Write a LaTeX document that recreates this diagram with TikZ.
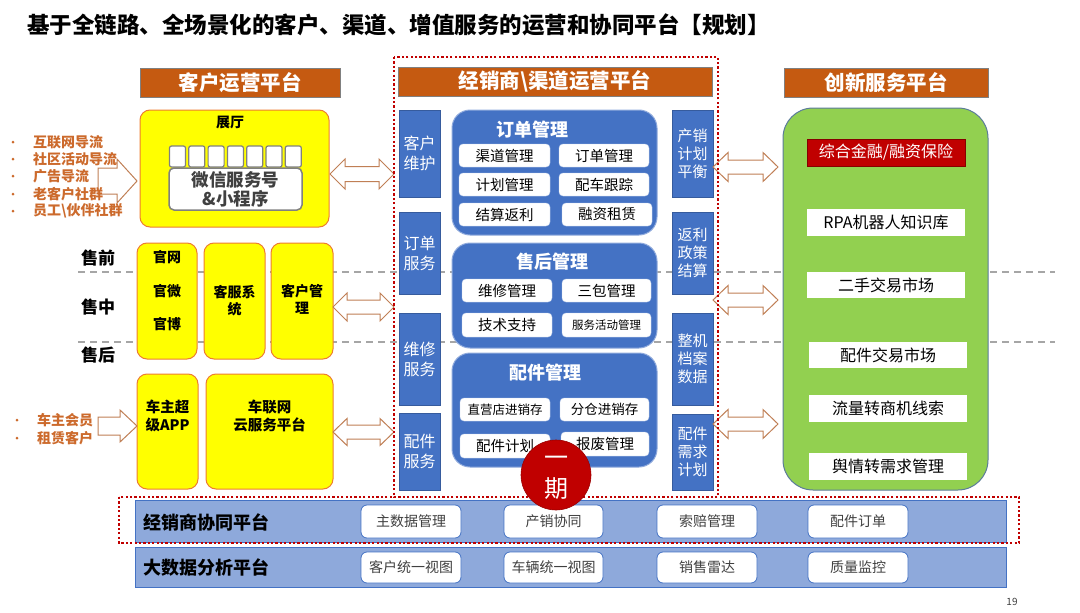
\documentclass[tikz,border=0pt]{standalone}
\usepackage{fontspec}
\setmainfont{Noto Sans CJK SC}
\usetikzlibrary{calc}
\definecolor{hdr}{HTML}{C55A11}
\definecolor{blu}{HTML}{4472C4}
\definecolor{blul}{HTML}{8FAADC}
\definecolor{yel}{HTML}{FFFF00}
\definecolor{yelb}{HTML}{ED7D31}
\definecolor{grn}{HTML}{92D050}
\definecolor{grnb}{HTML}{5B7B9A}
\definecolor{dred}{HTML}{C00000}
\definecolor{org}{HTML}{CC6A2C}
\definecolor{arr}{HTML}{C07F55}
\definecolor{barf}{HTML}{8EA9DB}
\definecolor{dgray}{HTML}{404040}
\definecolor{lgray}{HTML}{A6A6A6}
\newcommand\fsz[2]{\fontsize{#1}{#2}\selectfont}
% box by corners: name, x1, y1, x2, y2, style, text
\newcommand\bx[7]{\node[#6, minimum width={#4-#2}, minimum height={#5-#3}] (#1) at ({(#2+#4)/2},{(#3+#5)/2}) {#7};}
% double block arrow: x1, x2, yc, body half, head half, head length
\newcommand\dblarr[6]{\draw[blockarr] (#1,#3) -- ({#1+#6},{#3-#5}) -- ({#1+#6},{#3-#4}) -- ({#2-#6},{#3-#4}) -- ({#2-#6},{#3-#5}) -- (#2,#3) -- ({#2-#6},{#3+#5}) -- ({#2-#6},{#3+#4}) -- ({#1+#6},{#3+#4}) -- ({#1+#6},{#3+#5}) -- cycle;}
% single block arrow (to the right): x1, x2, yc, body half, head half, head length
\newcommand\sglarr[6]{\draw[blockarr] (#1,{#3-#4}) -- ({#2-#6},{#3-#4}) -- ({#2-#6},{#3-#5}) -- (#2,#3) -- ({#2-#6},{#3+#5}) -- ({#2-#6},{#3+#4}) -- (#1,{#3+#4}) -- cycle;}
\begin{document}
\begin{tikzpicture}[x=1pt,y=-1pt,
  hdrbox/.style={rectangle, fill=hdr, draw=gray, line width=0.8pt, text=white, font=\bfseries\fsz{20.5}{23}, inner sep=0pt},
  yelbox/.style={rectangle, rounded corners=10pt, fill=yel, draw=yelb, line width=1pt, font=\bfseries\fsz{14}{17}, align=center, inner sep=0pt},
  colbox/.style={rectangle, fill=blu, draw=blu!80!black, line width=0.5pt, text=white, align=center, inner sep=0pt},
  rbox/.style={rectangle, rounded corners=18pt, fill=blu, draw=blul, line width=1pt, inner sep=0pt},
  item/.style={rectangle, rounded corners=4pt, fill=white, draw=blu!30, line width=0.4pt, font=\fsz{14.5}{17}, inner sep=0pt},
  gitem/.style={rectangle, fill=white, font=\fsz{16}{19}, inner sep=0pt},
  baritem/.style={rectangle, rounded corners=6pt, fill=white, draw=blu, line width=0.8pt, text=dgray, font=\fsz{14}{17}, inner sep=0pt},
  bar/.style={rectangle, fill=barf, draw=blu, line width=1pt, inner sep=0pt},
  blockarr/.style={draw=arr, fill=white, line width=1pt, line join=miter},
  lst/.style={anchor=west, text=org, font=\bfseries\fsz{14}{17}, inner sep=0pt},
  bul/.style={circle, fill=org, minimum size=3pt, inner sep=0pt},
  stage/.style={font=\bfseries\fsz{17}{20}, inner sep=0pt},
  sdash/.style={lgray, line width=1.2pt, dash pattern=on 7pt off 5pt},
  rdot/.style={dred, line width=2.6pt, dash pattern=on 2.2pt off 2.2pt},
  sq/.style={rectangle, rounded corners=2pt, fill=white, draw=gray, line width=1.2pt, minimum width=16pt, minimum height=21pt, inner sep=0pt}
]
\useasboundingbox (0,0) rectangle (1080,613);

% title
\node[anchor=west, font=\bfseries\fsz{22.5}{25}, inner sep=0pt] (title) at (27,25) {基于全链路、全场景化的客户、渠道、增值服务的运营和协同平台【规划】};

% stage dashed lines (behind)
\coordinate (d1a) at (78,272); \coordinate (d1b) at (1055,272);
\coordinate (d2a) at (78,342); \coordinate (d2b) at (1055,342);
\draw[sdash] (d1a) -- (d1b);
\draw[sdash] (d2a) -- (d2b);

% headers
\bx{h1}{140}{68}{340}{97}{hdrbox}{客户运营平台}
\bx{h2}{398}{67}{712}{96}{hdrbox}{经销商\textbackslash 渠道运营平台}
\bx{h3}{784}{68}{988}{97}{hdrbox}{创新服务平台}

% ---------- left column ----------
\bx{zt}{140}{110}{329}{227}{yelbox}{}
\node[font=\bfseries\fsz{14}{17}, inner sep=0pt] (ztt) at (230,123) {展厅};
\foreach \i in {0,...,6} {
  \node[sq] (sq\i) at ({177.5+\i*19.3},156.5) {};
}
\bx{wx}{169}{168}{302}{210}{rectangle, rounded corners=5pt, fill=white, draw=gray, line width=1.5pt, text=dgray, font=\bfseries\fsz{17.5}{19}, align=center, inner sep=0pt}{微信服务号\\\&小程序}

% list 1 arrow (behind text)
\sglarr{98}{137}{181}{13}{22}{20}
\foreach \t/\yy [count=\k] in {互联网导流/142, 社区活动导流/159, 广告导流/176, 老客户社群/194, 员工\textbackslash 伙伴社群/211} {
  \node[bul] (b\k) at (13,\yy) {};
  \node[lst] (l\k) at (33,\yy) {\t};
}

% stage labels
\node[stage] (s1) at (98,258) {售前};
\node[stage] (s2) at (98,307) {售中};
\node[stage] (s3) at (98,355) {售后};

% row 2 yellow
\bx{gw}{137}{243}{197}{359}{yelbox}{}
\node[font=\bfseries\fsz{14}{17}, inner sep=0pt] (gw1) at (167,257) {官网};
\node[font=\bfseries\fsz{14}{17}, inner sep=0pt] (gw2) at (167,291) {官微};
\node[font=\bfseries\fsz{14}{17}, inner sep=0pt] (gw3) at (167,324) {官博};
\bx{kf}{204}{243}{265}{359}{yelbox}{客服系\\统}
\bx{kh}{271}{243}{333}{359}{yelbox}{}
\node[font=\bfseries\fsz{14}{17}, align=center, inner sep=0pt] (kht) at (302,299) {客户管\\理};

% row 3 yellow
\bx{app}{137}{374}{198}{489}{yelbox}{}
\node[font=\bfseries\fsz{14.5}{17.5}, align=center, inner sep=0pt] (appt) at (167.5,416) {车主超\\级APP};
\bx{cl}{206}{374}{333}{489}{yelbox}{}
\node[font=\bfseries\fsz{14.5}{17.5}, align=center, inner sep=0pt] (clt) at (269.5,416) {车联网\\云服务平台};

% list 2
\sglarr{98}{137}{426}{9}{16}{17}
\node[bul] (b6) at (17,420) {};
\node[lst] (l6) at (37,420) {车主会员};
\node[bul] (b7) at (17,438) {};
\node[lst] (l7) at (37,438) {租赁客户};

% double arrows left
\dblarr{330}{394}{174}{7.5}{15}{15}
\dblarr{333}{394}{307}{7}{14}{14}
\dblarr{333}{394}{432}{7}{13.5}{14}

% ---------- center column ----------
\bx{c1}{399}{110}{440}{197}{colbox, font=\fsz{16}{20}}{客户\\维护}
\bx{c2}{399}{212}{440}{294}{colbox, font=\fsz{16}{20}}{订单\\服务}
\bx{c3}{399}{313}{440}{405}{colbox, font=\fsz{16}{20}}{维修\\服务}
\bx{c4}{399}{413}{440}{490}{colbox, font=\fsz{16}{20}}{配件\\服务}

\bx{r1}{672}{110}{713}{197}{colbox, font=\fsz{15}{18}}{产销\\计划\\平衡}
\bx{r2}{672}{212}{713}{294}{colbox, font=\fsz{15}{18}}{返利\\政策\\结算}
\bx{r3}{672}{313}{713}{405}{colbox, font=\fsz{15}{18}}{整机\\档案\\数据}
\bx{r4}{672}{414}{713}{490}{colbox, font=\fsz{15}{18}}{配件\\需求\\计划}

% order management
\bx{om}{452}{110}{657}{235}{rbox}{}
\node[text=white, font=\bfseries\fsz{18}{21}, inner sep=0pt] (omt) at (532,130) {订单管理};
\bx{o1}{459}{144}{550}{167}{item}{渠道管理}
\bx{o2}{559}{144}{649}{167}{item}{订单管理}
\bx{o3}{459}{173}{550}{196}{item}{计划管理}
\bx{o4}{559}{173}{649}{196}{item}{配车跟踪}
\bx{o5}{459}{203}{550}{226}{item}{结算返利}
\bx{o6}{562}{203}{652}{226}{item}{融资租赁}

% after-sales
\bx{am}{452}{243}{657}{348}{rbox}{}
\node[text=white, font=\bfseries\fsz{18}{21}, inner sep=0pt] (amt) at (552,262) {售后管理};
\bx{a1}{462}{279}{552}{302}{item}{维修管理}
\bx{a2}{562}{279}{651}{302}{item}{三包管理}
\bx{a3}{462}{313}{552}{337}{item}{技术支持}
\bx{a4}{562}{313}{651}{337}{item, font=\fsz{11.5}{14}}{服务活动管理}

% parts
\bx{pm}{452}{353}{657}{467}{rbox}{}
\node[text=white, font=\bfseries\fsz{18}{21}, inner sep=0pt] (pmt) at (545,373) {配件管理};
\bx{p1}{460}{398}{550}{421}{item, font=\fsz{12.5}{15}}{直营店进销存}
\bx{p2}{560}{398}{649}{421}{item, font=\fsz{13.5}{16}}{分仓进销存}
\bx{p3}{460}{434}{550}{458}{item}{配件计划}
\bx{p4}{561}{432}{649}{456}{item}{报废管理}

% ---------- right column ----------
\bx{gb}{783}{108}{988}{490}{rectangle, rounded corners=30pt, fill=grn, draw=grnb, line width=1pt, inner sep=0pt}{}
\bx{g1}{807}{139}{965}{166}{gitem, fill=dred, draw=dred!70!black, line width=0.5pt, text=white}{综合金融/融资保险}
\bx{g2}{807}{209}{965}{236}{gitem}{RPA机器人知识库}
\bx{g3}{807}{272}{965}{298}{gitem}{二手交易市场}
\bx{g4}{809}{342}{967}{368}{gitem}{配件交易市场}
\bx{g5}{809}{395}{967}{422}{gitem}{流量转商机线索}
\bx{g6}{809}{453}{967}{480}{gitem}{舆情转需求管理}

\dblarr{713}{778}{167}{7}{14.5}{15}
\dblarr{713}{778}{300}{7}{14.5}{15}
\dblarr{713}{778}{424}{7}{14.5}{15}

% ---------- bottom bars ----------
\bx{bar1}{135}{500}{1006}{542}{bar}{}
\node[anchor=west, font=\bfseries\fsz{18}{21}, inner sep=0pt] (bar1t) at (143,522) {经销商协同平台};
\bx{x1}{361}{505}{461}{538}{baritem}{主数据管理}
\bx{x2}{504}{505}{603}{538}{baritem}{产销协同}
\bx{x3}{657}{505}{757}{538}{baritem}{索赔管理}
\bx{x4}{808}{505}{908}{538}{baritem}{配件订单}

\bx{bar2}{135}{547}{1006}{587}{bar}{}
\node[anchor=west, font=\bfseries\fsz{18}{21}, inner sep=0pt] (bar2t) at (143,567) {大数据分析平台};
\bx{y1}{361}{552}{461}{583}{baritem}{客户统一视图}
\bx{y2}{504}{552}{603}{583}{baritem}{车辆统一视图}
\bx{y3}{657}{552}{757}{583}{baritem}{销售雷达}
\bx{y4}{808}{552}{908}{583}{baritem}{质量监控}

% red dotted frames
\coordinate (f1a) at (394,57); \coordinate (f1b) at (718,497);
\coordinate (f2a) at (119,497); \coordinate (f2b) at (1019,543);
\draw[rdot] (f1a) rectangle (f1b);
\draw[rdot] (f2a) rectangle (f2b);

% phase circle
\node[circle, fill=dred, draw=dred!80!black, line width=0.6pt, minimum size=70pt, inner sep=0pt] (ph) at (556,475) {};
\node[text=white, font=\fsz{24}{28}, inner sep=0pt] (ph1) at (556,461) {一};
\node[text=white, font=\fsz{24}{28}, inner sep=0pt] (ph2) at (556,489) {期};

% page number
\node[text=dgray, font=\fsz{10}{12}, inner sep=0pt] (pg) at (1012,602) {19};
\end{tikzpicture}
\end{document}
